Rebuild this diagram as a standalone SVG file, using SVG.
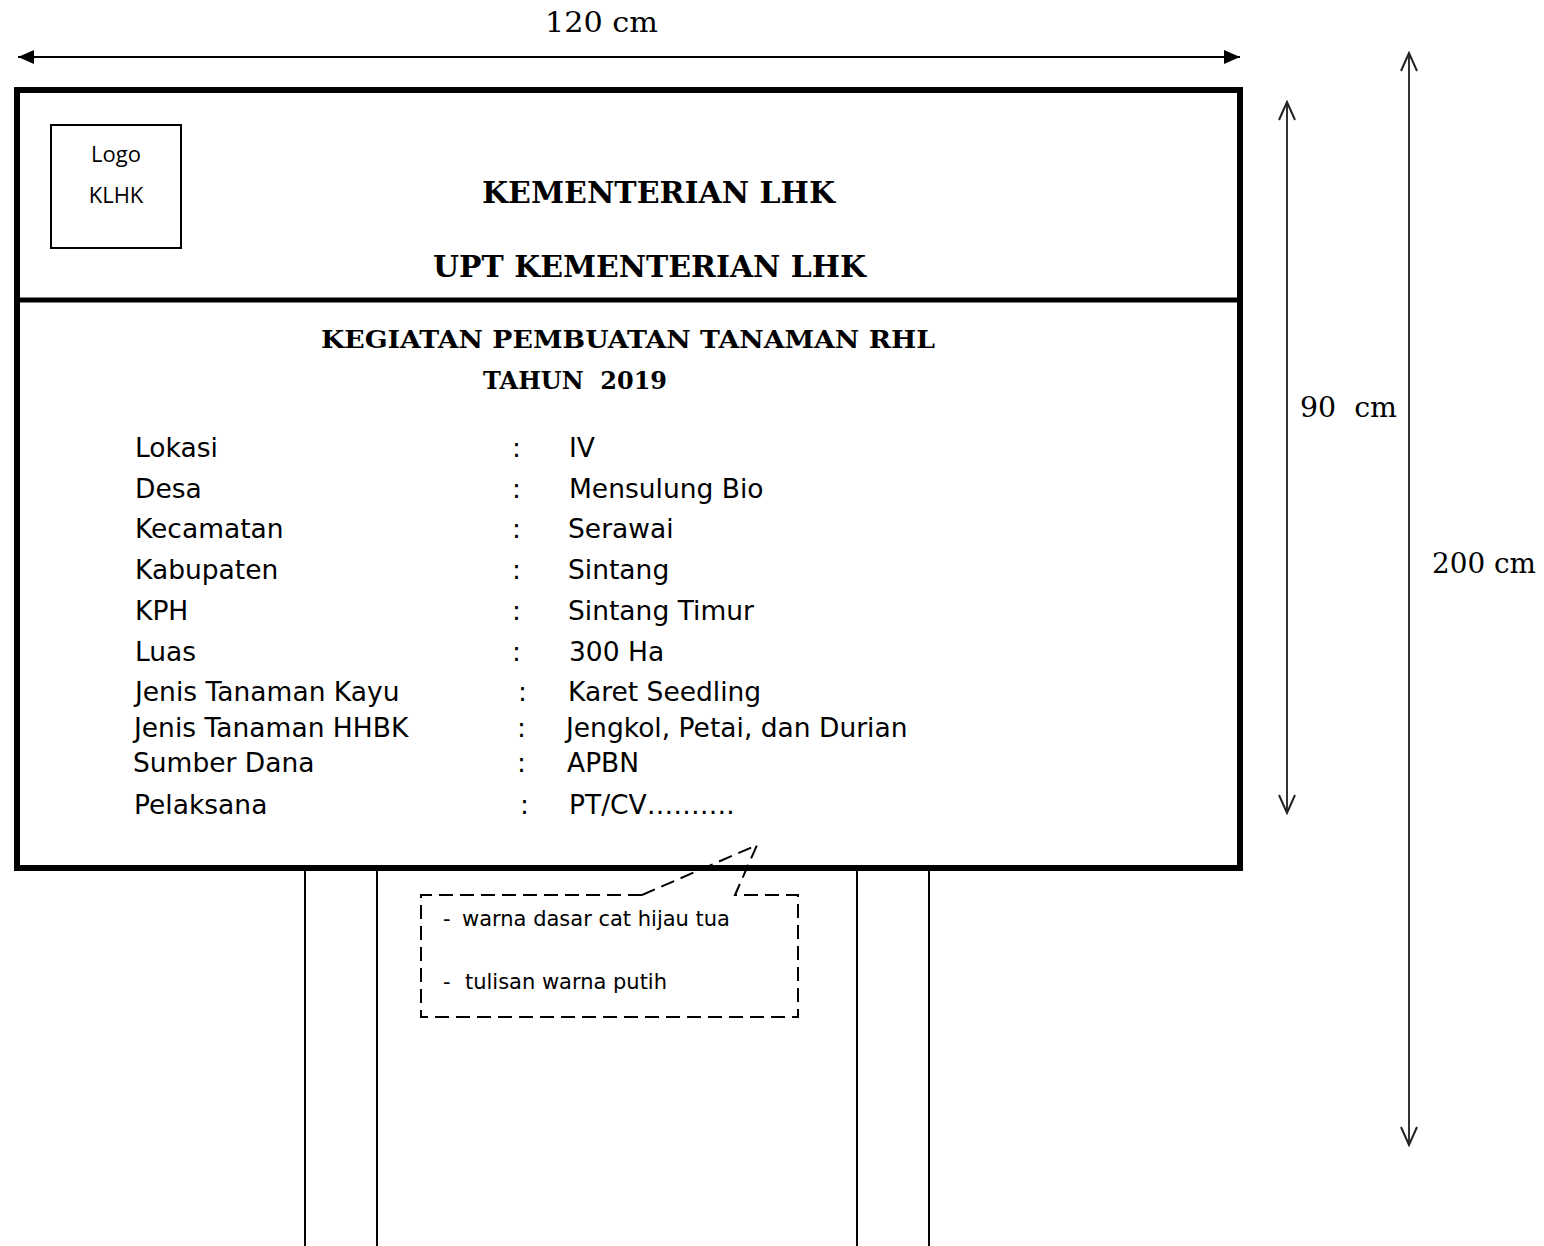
<svg xmlns="http://www.w3.org/2000/svg" width="1544" height="1246" viewBox="0 0 1544 1246">
<style>
.dim{font-family:"DejaVu Serif","Liberation Serif",serif;font-size:28px;fill:#000;white-space:pre}
.hdr{font-family:"DejaVu Serif","Liberation Serif",serif;font-weight:bold;fill:#000;white-space:pre}
.body{font-family:"DejaVu Sans","Liberation Sans",sans-serif;font-size:26.5px;fill:#000}
.note{font-family:"DejaVu Sans","Liberation Sans",sans-serif;font-size:21px;fill:#000}
.logo{font-family:"Open Sans","Liberation Sans",sans-serif;font-size:22px;fill:#000}
.dash{fill:none;stroke:#000;stroke-width:2;stroke-dasharray:14 7}
.vline{stroke:#333;stroke-width:2;fill:none}
</style>
<defs>
<marker id="tri" viewBox="0 0 16 14" refX="16" refY="7" markerWidth="16" markerHeight="14" markerUnits="userSpaceOnUse" orient="auto-start-reverse">
<path d="M0,0 L16,7 L0,14 Z" fill="#000"/>
</marker>
<marker id="vee" viewBox="0 0 22 18" refX="20" refY="9" markerWidth="22" markerHeight="18" markerUnits="userSpaceOnUse" orient="auto-start-reverse">
<path d="M2,1 L20,9 L2,17" fill="none" stroke="#222" stroke-width="2"/>
</marker>
</defs>

<g id="connectors">
<line x1="18" y1="57" x2="1240" y2="57" stroke="#000" stroke-width="2" marker-start="url(#tri)" marker-end="url(#tri)"/>
<line class="vline" x1="1287" y1="102" x2="1287" y2="813" marker-start="url(#vee)" marker-end="url(#vee)"/>
<line class="vline" x1="1409" y1="53" x2="1409" y2="1145" marker-start="url(#vee)" marker-end="url(#vee)"/>
</g>

<g id="dim-labels">
<text class="dim" x="545" y="32" textLength="113" lengthAdjust="spacingAndGlyphs">120 cm</text>
<text class="dim" x="1300" y="417" textLength="97" lengthAdjust="spacingAndGlyphs">90  cm</text>
<text class="dim" x="1432" y="573" textLength="104" lengthAdjust="spacingAndGlyphs">200 cm</text>
</g>

<g id="posts">
<line x1="305" y1="868" x2="305" y2="1246" stroke="#000" stroke-width="2"/>
<line x1="377" y1="868" x2="377" y2="1246" stroke="#000" stroke-width="2"/>
<line x1="857" y1="868" x2="857" y2="1246" stroke="#000" stroke-width="2"/>
<line x1="929" y1="868" x2="929" y2="1246" stroke="#000" stroke-width="2"/>
</g>

<g id="board">
<rect x="17" y="90" width="1223" height="778" fill="#fff" stroke="#000" stroke-width="6"/>
<line x1="17" y1="300" x2="1240" y2="300" stroke="#000" stroke-width="5"/>
</g>

<g id="logo">
<rect x="51" y="125" width="130" height="123" fill="#fff" stroke="#000" stroke-width="2"/>
<text class="logo" x="116" y="162" text-anchor="middle">Logo</text>
<text class="logo" x="116" y="203" text-anchor="middle">KLHK</text>
</g>

<g id="header">
<text class="hdr" x="482" y="203" font-size="30" textLength="353" lengthAdjust="spacingAndGlyphs">KEMENTERIAN LHK</text>
<text class="hdr" x="433" y="277" font-size="30" textLength="433" lengthAdjust="spacingAndGlyphs">UPT KEMENTERIAN LHK</text>
<text class="hdr" x="321" y="348" font-size="24" textLength="614" lengthAdjust="spacingAndGlyphs">KEGIATAN PEMBUATAN TANAMAN RHL</text>
<text class="hdr" x="483" y="389" font-size="24" textLength="184" lengthAdjust="spacingAndGlyphs">TAHUN  2019</text>
</g>

<g id="details">
<text class="body" x="135" y="457">Lokasi</text>
<text class="body" x="512" y="457">:</text>
<text class="body" x="569" y="457">IV</text>
<text class="body" x="135" y="498">Desa</text>
<text class="body" x="512" y="498">:</text>
<text class="body" x="569" y="498">Mensulung Bio</text>
<text class="body" x="135" y="538">Kecamatan</text>
<text class="body" x="512" y="538">:</text>
<text class="body" x="568" y="538">Serawai</text>
<text class="body" x="135" y="579">Kabupaten</text>
<text class="body" x="512" y="579">:</text>
<text class="body" x="568" y="579">Sintang</text>
<text class="body" x="135" y="620">KPH</text>
<text class="body" x="512" y="620">:</text>
<text class="body" x="568" y="620">Sintang Timur</text>
<text class="body" x="135" y="661">Luas</text>
<text class="body" x="512" y="661">:</text>
<text class="body" x="569" y="661">300 Ha</text>
<text class="body" x="135" y="701">Jenis Tanaman Kayu</text>
<text class="body" x="518" y="701">:</text>
<text class="body" x="568" y="701">Karet Seedling</text>
<text class="body" x="134" y="737">Jenis Tanaman HHBK</text>
<text class="body" x="517" y="737">:</text>
<text class="body" x="566" y="737">Jengkol, Petai, dan Durian</text>
<text class="body" x="133" y="772">Sumber Dana</text>
<text class="body" x="517" y="772">:</text>
<text class="body" x="567" y="772">APBN</text>
<text class="body" x="134" y="814">Pelaksana</text>
<text class="body" x="520" y="814">:</text>
<text class="body" x="569" y="814">PT/CV……….</text>
</g>

<g id="callout">
<path class="dash" d="M642,895 L757,845 L735,895 L798,895 L798,1017 L421,1017 L421,895 Z"/>
<text class="note" x="443" y="926">-</text>
<text class="note" x="462" y="926" textLength="268" lengthAdjust="spacingAndGlyphs">warna dasar cat hijau tua</text>
<text class="note" x="443" y="989">-</text>
<text class="note" x="465" y="989" textLength="202" lengthAdjust="spacingAndGlyphs">tulisan warna putih</text>
</g>
</svg>
